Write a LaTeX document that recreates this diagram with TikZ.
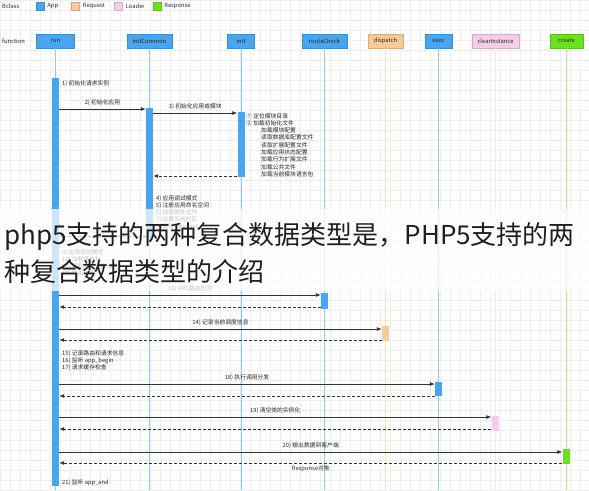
\documentclass[tikz,border=0pt]{standalone}
\usepackage{fontspec}
\setmainfont{Noto Sans CJK SC}
\usetikzlibrary{arrows.meta,positioning}
\definecolor{app}{HTML}{49A6EE}
\definecolor{request}{HTML}{F8C999}
\definecolor{loader}{HTML}{F6CDE6}
\definecolor{response}{HTML}{6BE11F}
\definecolor{ink}{HTML}{333333}

\begin{document}
\begin{tikzpicture}[x=1pt,y=-1pt,
  font=\fontsize{5.8}{7}\selectfont,
  obj/.style={draw=#1!85!black,fill=#1,minimum height=14pt,inner sep=0pt,text=black!85},
  key/.style={draw=#1!85!black,fill=#1,minimum size=8pt,inner sep=0pt},
  act/.style={fill=#1,minimum width=7pt,inner sep=0pt,anchor=north},
  life/.style={#1!60,line width=0.5pt},
  msg/.style={ink,line width=0.8pt,-{Latex[length=5pt,width=4pt]}},
  ret/.style={msg,dash pattern=on 3pt off 2pt},
  note/.style={anchor=west,inner sep=0pt,text=black!85},
  lbl/.style={inner sep=0pt,text=black!85}]
\useasboundingbox (0,0) rectangle (589,490);
\fill[white] (0,0) rectangle (589,490);
\draw[black!7,line width=0.3pt,step=10pt] (0,0) grid (589,490);
\coordinate (bottom) at (0,490);

\node[note] (bclass) at (2,6) {Bclass};
\node[key=app] (kapp) at (40,6) {};
\node[note,right=3pt of kapp] (tapp) {App};
\node[key=request] (kreq) at (75.5,6) {};
\node[note,right=3pt of kreq] (treq) {Request};
\node[key=loader] (kld) at (118.5,6) {};
\node[note,right=3pt of kld] (tld) {Loader};
\node[key=response] (kres) at (157,6) {};
\node[note,right=3pt of kres] (tres) {Response};

\node[note] (function) at (2,41) {function};
\node[obj=app,minimum width=38pt] (run) at (55.5,41) {run};
\node[obj=app,minimum width=45pt] (initCommon) at (149.5,41) {initCommon};
\node[obj=app,minimum width=27pt] (init) at (241,41) {init};
\node[obj=app,minimum width=45pt] (routeCheck) at (324.5,41) {routeCheck};
\node[obj=request,minimum width=35pt] (dispatch) at (385.5,41) {dispatch};
\node[obj=app,minimum width=27pt] (exec) at (438.5,41) {exec};
\node[obj=loader,minimum width=47pt] (clearInstance) at (495.5,41) {clearInstance};
\node[obj=response,minimum width=33pt] (create) at (566.5,41) {create};

\draw[life=app] (run.south) -- (run.south |- bottom);
\draw[life=app] (initCommon.south) -- (initCommon.south |- bottom);
\draw[life=app] (init.south) -- (init.south |- bottom);
\draw[life=app] (routeCheck.south) -- (routeCheck.south |- bottom);
\draw[life=request] (dispatch.south) -- (dispatch.south |- bottom);
\draw[life=app] (exec.south) -- (exec.south |- bottom);
\draw[life=loader] (clearInstance.south) -- (clearInstance.south |- bottom);
\draw[life=response] (create.south) -- (create.south |- bottom);

\node[act=app,minimum height=408pt] (runact) at (55.5,78) {};
\node[act=app,minimum height=130pt] (icact) at (149.5,108) {};
\node[act=app,minimum height=65pt] (initact) at (241,112) {};
\node[act=app,minimum height=16pt] (rcact) at (324.5,293) {};
\node[act=request,minimum height=15pt] (dpact) at (385.5,326) {};
\node[act=app,minimum height=14pt] (exact) at (438.5,382) {};
\node[act=loader,minimum height=15pt] (ciact) at (495,416) {};
\node[act=response,minimum height=15pt] (cract) at (566,449) {};

\node[note] (n1) at (62,84) {1) 初始化请求实例};

\coordinate (m2) at (0,109);
\coordinate (m3) at (0,113);
\coordinate (r3) at (0,176);
\coordinate (r8) at (0,236);
\coordinate (m13) at (0,295);
\coordinate (r13) at (0,307);
\coordinate (m14) at (0,329);
\coordinate (r14) at (0,340);
\coordinate (m18) at (0,384);
\coordinate (r18) at (0,396);
\coordinate (m19) at (0,417);
\coordinate (r19) at (0,429);
\coordinate (m20) at (0,452);
\coordinate (r20) at (0,463);

\draw[msg] (runact.east |- m2) -- (icact.west |- m2) node[lbl,midway,above=3pt] (l2) {2) 初始化应用};
\draw[msg] (icact.east |- m3) -- (initact.west |- m3) node[lbl,midway,above=3pt] (l3) {3) 初始化应用或模块};

\node[note] (s1) at (246,116) {① 定位模块目录};
\node[note] (s2) at (246,123) {② 加载初始化文件};
\foreach \t [count=\i] in {加载模块配置,读取数据库配置文件,读取扩展配置文件,加载应用状态配置,加载行为扩展文件,加载公共文件,加载当前模块语言包}
  \node[note] (cfg\i) at (261,{123+7.3*\i}) {\t};
\draw[ret] (initact.west |- r3) -- (icact.east |- r3);

\node[note] (n4) at (156,199) {4) 应用调试模式};
\node[note] (n5) at (156,206) {5) 注册应用命名空间};
\node[note] (n6) at (156,213) {6) 加载额外文件};
\node[note] (n7) at (156,220) {7) 设置系统时区};
\node[note] (n8) at (156,227) {8) 监听 app\_init};
\draw[ret] (icact.west |- r8) -- (runact.east |- r8);

\node[note] (n9) at (62,253) {9) 应用调试模式};
\node[note] (n10) at (62,260) {10) 加载语言包};
\node[note] (n11) at (62,267) {11) 获取应用调度信息};
\node[note] (n12) at (62,274) {12) 路由检测};

\draw[msg] (runact.east |- m13) -- (rcact.west |- m13) node[lbl,midway,above=3pt] (l13) {13) URL路由检测};
\draw[ret] (rcact.west |- r13) -- (runact.east |- r13);

\draw[msg] (runact.east |- m14) -- (dpact.west |- m14) node[lbl,midway,above=3pt] (l14) {14) 记录当前调度信息};
\draw[ret] (dpact.west |- r14) -- (runact.east |- r14);

\node[note] (n15) at (62,354) {15) 记录路由和请求信息};
\node[note] (n16) at (62,361) {16) 监听 app\_begin};
\node[note] (n17) at (62,368) {17) 请求缓存检查};

\draw[msg] (runact.east |- m18) -- (exact.west |- m18) node[lbl,midway,above=3pt] (l18) {18) 执行调用分发};
\draw[ret] (exact.west |- r18) -- (runact.east |- r18);

\draw[msg] (runact.east |- m19) -- (ciact.west |- m19) node[lbl,midway,above=3pt] (l19) {19) 清空类的实例化};
\draw[ret] (ciact.west |- r19) -- (runact.east |- r19);

\draw[msg] (runact.east |- m20) -- (cract.west |- m20) node[lbl,midway,above=3pt] (l20) {20) 输出数据到客户端};
\draw[ret] (cract.west |- r20) -- (runact.east |- r20) node[lbl,midway,below=2pt] (lr20) {Response对象};

\node[note] (n21) at (62,483) {21) 监听 app\_end};

\fill[white,opacity=0.72] (0,209) rectangle (589,291);
\node[anchor=west,inner sep=0pt,text=black!88,font=\fontsize{26}{30}\selectfont] (title1) at (4,237) {php5支持的两种复合数据类型是，PHP5支持的两};
\node[anchor=west,inner sep=0pt,text=black!88,font=\fontsize{26}{30}\selectfont] (title2) at (4,272) {种复合数据类型的介绍};
\end{tikzpicture}
\end{document}
